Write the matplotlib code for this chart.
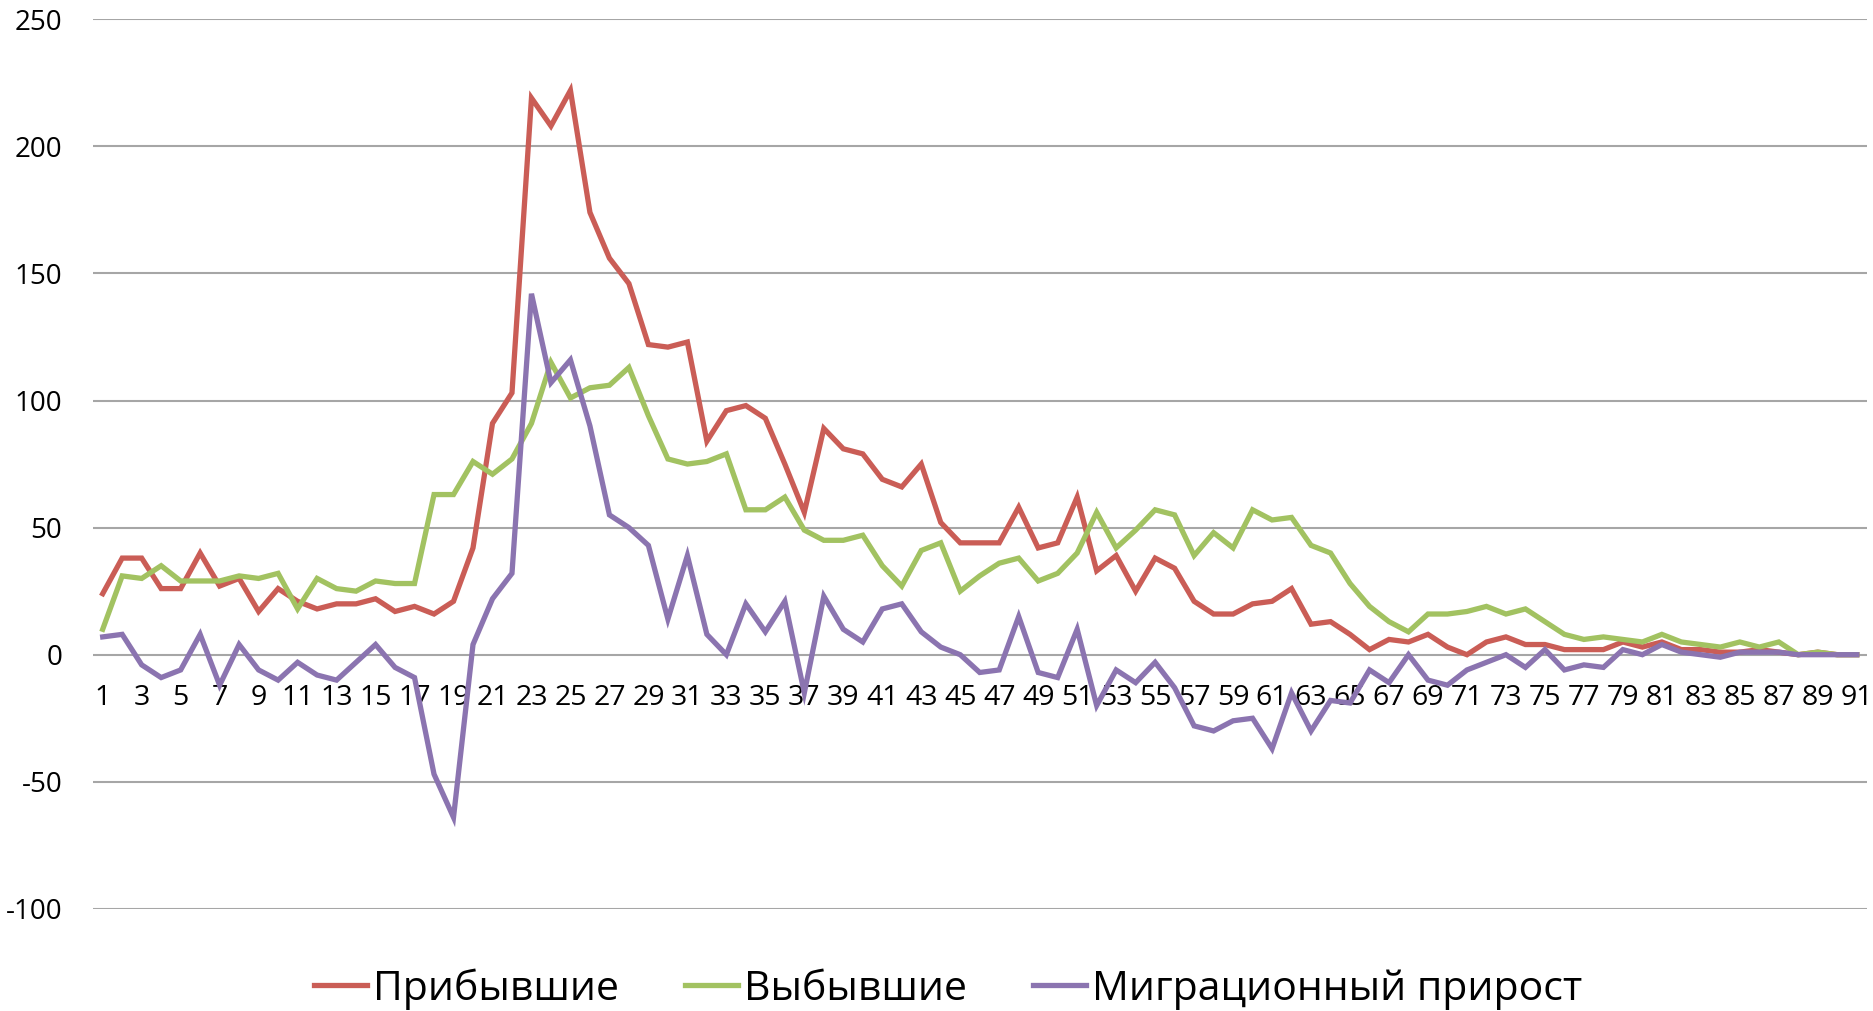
import numpy as np
import matplotlib
matplotlib.use("Agg")
import matplotlib.pyplot as plt

plt.rcParams['font.family'] = ['Open Sans', 'DejaVu Sans']
plt.rcParams['axes.unicode_minus'] = False

# данные
ages = list(range(1, 92))

arrived = [24, 38, 38, 26, 26, 40, 27, 30, 17, 26,
           21, 18, 20, 20, 22, 17, 19, 16, 21, 42,
           91, 103, 219, 208, 222, 174, 156, 146, 122, 121,
           123, 84, 96, 98, 93, 75, 56, 89, 81, 79,
           69, 66, 75, 52, 44, 44, 44, 58, 42, 44,
           62, 33, 39, 25, 38, 34, 21, 16, 16, 20,
           21, 26, 12, 13, 8, 2, 6, 5, 8, 3,
           0, 5, 7, 4, 4, 2, 2, 2, 5, 3,
           5, 2, 2, 1, 1, 2, 1, 0, 1, 0, 0]

departed = [10, 31, 30, 35, 29, 29, 29, 31, 30, 32,
            18, 30, 26, 25, 29, 28, 28, 63, 63, 76,
            71, 77, 91, 115, 101, 105, 106, 113, 94, 77,
            75, 76, 79, 57, 57, 62, 49, 45, 45, 47,
            35, 27, 41, 44, 25, 31, 36, 38, 29, 32,
            40, 56, 42, 49, 57, 55, 39, 48, 42, 57,
            53, 54, 43, 40, 28, 19, 13, 9, 16, 16,
            17, 19, 16, 18, 13, 8, 6, 7, 6, 5,
            8, 5, 4, 3, 5, 3, 5, 0, 1, 0, 0]

net = [7, 8, -4, -9, -6, 8, -12, 4, -6, -10,
       -3, -8, -10, -3, 4, -5, -9, -47, -64, 4,
       22, 32, 142, 107, 116, 90, 55, 50, 43, 14,
       39, 8, 0, 20, 9, 21, -15, 23, 10, 5,
       18, 20, 9, 3, 0, -7, -6, 15, -7, -9,
       10, -20, -6, -11, -3, -13, -28, -30, -26, -25,
       -37, -15, -30, -18, -19, -6, -11, 0, -10, -12,
       -6, -3, 0, -5, 2, -6, -4, -5, 2, 0,
       4, 1, 0, -1, 1, 1, 1, 0, 0, 0, 0]

series = [("Прибывшие", arrived, "#CA5D56"),
          ("Выбывшие", departed, "#A2C261"),
          ("Миграционный прирост", net, "#8B74B0")]

fig = plt.figure(figsize=(18.74, 10.11), dpi=100)
ax = fig.add_axes([0.0496, 0.101, 0.9464, 0.880])

for name, vals, col in series:
    ax.plot(ages, vals, color=col, lw=3.8, label=name, solid_joinstyle='miter')

ax.set_xlim(0.5, 91.5)
ax.set_ylim(-100, 250)
ax.set_yticks(np.arange(-100, 251, 50))
ax.set_xticks(ages[::2])
ax.set_xticklabels([str(a) for a in ages[::2]])
ax.yaxis.grid(True, color="#A6A6A6", lw=1.5)
ax.set_axisbelow(True)

for s in ["left", "right", "top"]:
    ax.spines[s].set_visible(False)
ax.spines["bottom"].set_position(("data", 0))
ax.spines["bottom"].set_visible(False)

ax.tick_params(axis="x", length=0, pad=21, labelsize=20.5)
ax.tick_params(axis="y", length=0, pad=22, labelsize=20)

fig.legend(loc="center", bbox_to_anchor=(0.506, 0.022), ncol=3, frameon=False,
           fontsize=29.5, handlelength=1.3, handletextpad=0.15, columnspacing=1.6)

fig.savefig("out.png", dpi=100)
